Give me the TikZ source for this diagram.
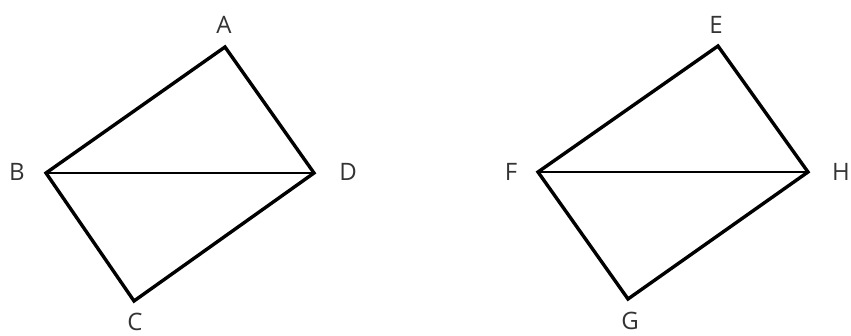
\documentclass[tikz,border=0pt]{standalone}
\usepackage{fontspec}
\setmainfont{Open Sans}
\usetikzlibrary{positioning}

\tikzset{
  side/.style={line width=3.4pt,line join=miter},
  diag/.style={line width=2.6pt},
  lbl/.style={font=\fontsize{24}{24}\selectfont,text=black!80,inner sep=0pt}
}

\begin{document}
\begin{tikzpicture}[x=1pt,y=-1pt]
\useasboundingbox (0,0) rectangle (851,336);
% left quadrilateral
\coordinate (A) at (225,47);
\coordinate (B) at (46,173);
\coordinate (C) at (134,301);
\coordinate (D) at (314,173);
\draw[side] (A) -- (B) -- (C) -- (D) -- cycle;
\draw[diag] (B) -- (D);
\node[lbl] (lA) at (224,25) {A};
\node[lbl] (lB) at (17,172) {B};
\node[lbl] (lC) at (135,322) {C};
\node[lbl] (lD) at (348,172) {D};
% right quadrilateral
\coordinate (E) at (718,46);
\coordinate (F) at (538,172);
\coordinate (G) at (628,299);
\coordinate (H) at (808,172);
\draw[side] (E) -- (F) -- (G) -- (H) -- cycle;
\draw[diag] (F) -- (H);
\node[lbl] (lE) at (716,25) {E};
\node[lbl] (lF) at (511,172) {F};
\node[lbl] (lG) at (630,321) {G};
\node[lbl] (lH) at (841,172) {H};
\end{tikzpicture}
\end{document}
